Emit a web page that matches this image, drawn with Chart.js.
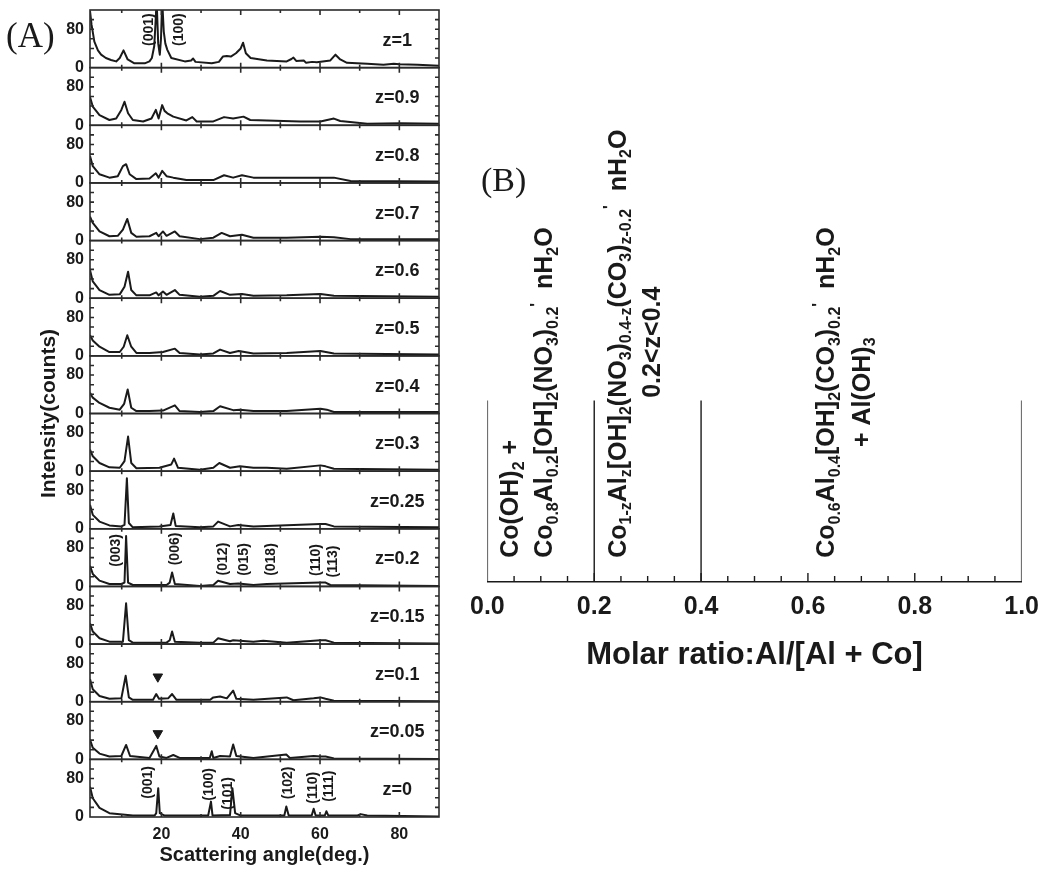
<!DOCTYPE html>
<html>
<head>
<meta charset="utf-8">
<title>XRD patterns and phase diagram</title>
<script src="https://cdn.jsdelivr.net/npm/chart.js@4.4.0/dist/chart.umd.min.js"></script>
<style>
  html, body { margin: 0; padding: 0; background: #fff; }
  #wrap { position: relative; width: 1049px; height: 869px; }
  canvas { position: absolute; top: 0; }
  #xrd { left: 0; }
  #phase { left: 460px; }
</style>
</head>
<body>
<div id="wrap">
  <canvas id="xrd" width="460" height="869"></canvas>
  <canvas id="phase" width="589" height="869"></canvas>
</div>
<script>
// ---- (A) XRD patterns, [angle, intensity] ----
const xrdZ100 = [[2.0,118],[2.4,89],[3.1,54],[4.0,36],[4.8,27],[6.0,20],[7.3,16],[8.6,13],[9.5,20],[10.45,36],[11.5,17],[13.2,9],[15.8,9],[17.0,13],[17.6,20],[18.2,45],[18.5,90],[18.8,140],[19.2,50],[19.6,27],[19.9,60],[20.2,140],[20.6,75],[21.0,50],[21.5,37],[22.5,20],[25.9,13],[27.5,15],[28.0,19],[28.6,12],[32.7,9],[34.5,12],[35.5,23],[36.5,24],[37.5,23],[38.8,30],[40.0,40],[40.6,52],[41.3,30],[42.5,20],[46.6,15],[51.6,13],[52.8,18],[53.3,21],[54.0,14],[55.9,15],[56.5,10],[58.0,12],[59.2,11],[62.6,15],[63.9,27],[65.1,17],[66.8,10],[71.9,8],[76.0,6],[78.6,8],[80.0,7],[84.6,6],[90.0,4]];
const xrdZ090 = [[2.0,59],[2.7,39],[4.4,21],[6.9,11],[8.6,14],[9.9,32],[10.7,49],[11.6,25],[12.8,11],[15.4,8],[17.5,14],[18.6,32],[19.3,14],[20.2,42],[20.8,30],[21.5,25],[23.0,18],[26.3,10],[27.8,17],[28.9,8],[33.1,8],[35.8,17],[38.1,14],[40.7,18],[42.4,11],[46.6,10],[55.0,8],[60.1,8],[63.5,14],[65.1,9],[71.9,3],[80.3,4],[90.0,3]];
const xrdZ080 = [[2.0,56],[2.7,35],[4.4,18],[6.9,11],[9.0,14],[10.3,35],[11.1,39],[12.0,18],[13.7,8],[17.0,9],[18.6,20],[19.3,11],[20.2,25],[21.3,14],[23.0,11],[26.3,6],[33.1,6],[35.8,16],[38.1,11],[40.3,16],[43.2,11],[51.6,11],[60.1,11],[63.5,11],[67.7,4],[90.0,3]];
const xrdZ070 = [[2.0,50],[2.7,37],[4.4,19],[6.9,9],[9.0,10],[10.3,23],[11.4,45],[12.4,16],[13.7,8],[17.0,9],[18.7,16],[19.3,9],[20.4,19],[21.3,10],[23.4,19],[24.6,9],[29.7,3],[33.1,6],[35.2,16],[37.3,9],[40.3,12],[43.2,6],[51.6,6],[60.1,8],[63.5,7],[67.7,3],[90.0,3]];
const xrdZ060 = [[2.0,59],[2.7,35],[4.4,17],[6.9,7],[9.5,8],[10.7,24],[11.6,55],[12.4,17],[13.7,6],[17.0,6],[18.7,12],[19.3,6],[20.4,14],[21.3,7],[23.4,17],[24.6,7],[29.7,3],[33.1,5],[34.8,15],[37.3,7],[40.3,9],[43.2,5],[51.6,6],[60.1,9],[63.5,5],[90.0,3]];
const xrdZ050 = [[2.0,43],[2.7,32],[4.4,19],[6.9,8],[9.5,8],[10.5,19],[11.4,43],[12.4,19],[13.7,6],[17.0,6],[20.4,8],[23.4,15],[24.6,6],[29.7,3],[33.1,5],[34.8,13],[37.3,6],[39.5,10],[43.2,5],[51.6,6],[60.1,10],[63.5,5],[90.0,3]];
const xrdZ040 = [[2.0,43],[2.7,33],[4.4,22],[6.9,12],[9.5,8],[10.6,20],[11.5,50],[12.4,12],[13.7,5],[17.0,5],[20.4,6],[23.4,17],[24.6,5],[29.7,3],[33.1,5],[34.8,15],[38.1,7],[39.8,8],[43.2,5],[51.6,5],[60.1,10],[61.7,8],[63.5,3],[90.0,3]];
const xrdZ030 = [[2.0,45],[2.7,31],[4.4,17],[6.9,8],[9.5,7],[10.7,21],[11.6,72],[12.4,17],[13.7,6],[19.5,7],[22.5,14],[23.2,26],[24.2,7],[29.7,3],[33.1,7],[34.6,17],[37.3,7],[39.8,10],[43.2,7],[46.6,7],[51.6,5],[60.1,12],[61.4,10],[63.5,5],[90.0,3]];
const xrdZ025 = [[2.0,50],[2.7,29],[4.4,15],[6.9,7],[9.9,5],[10.7,8],[11.3,105],[11.8,12],[12.8,3],[19.5,5],[22.3,8],[23.0,32],[23.6,6],[29.7,3],[33.1,5],[34.3,15],[37.3,5],[39.4,8],[43.2,5],[60.1,10],[61.4,10],[63.5,5],[90.0,3]];
const xrdZ020 = [[2.0,43],[2.7,26],[4.4,12],[6.9,5],[9.9,5],[10.7,8],[11.1,105],[11.6,8],[12.8,3],[21.3,3],[22.1,8],[22.7,29],[23.4,5],[29.7,1],[33.1,3],[34.3,12],[37.3,5],[39.4,6],[43.2,3],[46.6,5],[60.1,8],[61.4,8],[62.6,3],[90.0,1]];
const xrdZ015 = [[2.0,43],[2.7,26],[4.4,12],[6.9,5],[10.3,5],[11.1,85],[11.8,8],[12.8,3],[21.3,3],[22.1,8],[22.7,26],[23.4,5],[29.7,3],[33.1,3],[34.3,12],[37.3,6],[38.1,8],[43.2,5],[45.7,7],[51.6,3],[60.1,8],[61.4,8],[63.5,3],[90.0,1]];
const xrdZ010 = [[2.0,47],[2.7,26],[4.4,12],[6.9,6],[9.9,7],[11.0,54],[11.8,9],[12.8,4],[17.9,4],[18.7,16],[19.4,6],[21.7,7],[22.7,16],[23.8,4],[32.3,4],[33.1,9],[34.8,11],[36.5,7],[38.1,23],[38.9,6],[43.2,4],[51.6,9],[53.3,3],[58.4,7],[60.1,9],[61.4,6],[63.5,2],[90.0,1]];
const xrdZ005 = [[2.0,41],[2.7,24],[4.4,12],[6.9,6],[9.9,7],[11.1,30],[12.1,7],[17.0,3],[18.7,28],[19.5,6],[21.3,3],[23.0,9],[24.6,3],[32.2,3],[32.7,17],[33.1,3],[34.8,7],[37.3,6],[38.1,31],[38.9,7],[43.2,3],[51.5,10],[52.4,3],[58.4,7],[60.1,6],[61.4,6],[63.5,2],[90.0,1]];
const xrdZ000 = [[2.0,63],[2.7,39],[4.4,19],[6.9,8],[12.8,3],[18.3,3],[18.7,8],[19.2,60],[19.6,8],[20.8,3],[31.8,3],[32.5,32],[32.9,3],[37.3,4],[37.9,60],[38.6,8],[40.0,3],[51.0,3],[51.5,22],[52.1,3],[57.9,3],[58.4,17],[58.9,3],[61.2,3],[61.6,12],[62.1,3],[69.4,3],[70.2,6],[71.9,3],[90.0,1]];

const sampleLabels = ['z=1', 'z=0.9', 'z=0.8', 'z=0.7', 'z=0.6', 'z=0.5', 'z=0.4', 'z=0.3', 'z=0.25', 'z=0.2', 'z=0.15', 'z=0.1', 'z=0.05', 'z=0'];
const patterns = [xrdZ100, xrdZ090, xrdZ080, xrdZ070, xrdZ060, xrdZ050, xrdZ040, xrdZ030, xrdZ025, xrdZ020, xrdZ015, xrdZ010, xrdZ005, xrdZ000];
const angleTicks = [20, 40, 60, 80];
const intensityTicks = [0, 80];

// Miller index labels: sample, angle, intensity level
const peakLabels = [
  { sample: 'z=1', angle: 16.5, level: 79, text: '(001)' },
  { sample: 'z=1', angle: 24.1, level: 79, text: '(100)' },
  { sample: 'z=0.2', angle: 8.2, level: 75, text: '(003)' },
  { sample: 'z=0.2', angle: 23.1, level: 78, text: '(006)' },
  { sample: 'z=0.2', angle: 35.3, level: 57, text: '(012)' },
  { sample: 'z=0.2', angle: 40.6, level: 56, text: '(015)' },
  { sample: 'z=0.2', angle: 47.4, level: 56, text: '(018)' },
  { sample: 'z=0.2', angle: 58.8, level: 55, text: '(110)' },
  { sample: 'z=0.2', angle: 63.1, level: 52, text: '(113)' },
  { sample: 'z=0', angle: 16.3, level: 72, text: '(001)' },
  { sample: 'z=0', angle: 31.7, level: 68, text: '(100)' },
  { sample: 'z=0', angle: 36.5, level: 49, text: '(101)' },
  { sample: 'z=0', angle: 51.7, level: 71, text: '(102)' },
  { sample: 'z=0', angle: 58.0, level: 61, text: '(110)' },
  { sample: 'z=0', angle: 62.1, level: 64, text: '(111)' }
];
const markers = [
  { sample: 'z=0.1', angle: 19.1, level: 52 },
  { sample: 'z=0.05', angle: 19.1, level: 54 }
];

// ---- (B) phase diagram ----
const ratioTicks = [0, 0.2, 0.4, 0.6, 0.8, 1.0];
const phaseBoundaries = [0, 0.2, 0.4, 1.0];
const boundaryHeight = 33;
const phaseLabels = [
  { ratio: 0.041, level: 4.4, align: 'start', text: 'Co(OH)_{2} +' },
  { ratio: 0.105, level: 4.4, align: 'start', text: "Co_{0.8}Al_{0.2}[OH]_{2}(NO_{3})_{0.2}^{'}  nH_{2}O" },
  { ratio: 0.242, level: 4.4, align: 'start', text: "Co_{1-z}Al_{z}[OH]_{2}(NO_{3})_{0.4-z}(CO_{3})_{z-0.2}^{'}  nH_{2}O" },
  { ratio: 0.307, level: 43.6, align: 'center', text: '0.2<z<0.4' },
  { ratio: 0.632, level: 4.4, align: 'start', text: "Co_{0.6}Al_{0.4}[OH]_{2}(CO_{3})_{0.2}^{'}  nH_{2}O" },
  { ratio: 0.699, level: 34.5, align: 'center', text: '+ Al(OH)_{3}' }
];

const ink = '#1a1a1a';
const sans = "'Liberation Sans', Arial, Helvetica, sans-serif";
const serif = "'Liberation Serif', 'Times New Roman', serif";
Chart.defaults.font.family = sans;
Chart.defaults.color = ink;

// draws text rotated -90deg; _{..} subscript, ^{..} superscript
function drawRotated(ctx, str, x, y, size, align) {
  const parts = [];
  const re = /([_^])\{([^}]*)\}|([^_^]+)/g;
  let m;
  while ((m = re.exec(str))) {
    if (m[3]) parts.push({ t: m[3], k: 'n' });
    else parts.push({ t: m[2], k: m[1] === '_' ? 'sub' : 'sup' });
  }
  const small = Math.round(size * 0.64);
  const fontFor = k => `bold ${k === 'n' ? size : small}px ${sans}`;
  let total = 0;
  parts.forEach(p => { ctx.font = fontFor(p.k); p.w = ctx.measureText(p.t).width; total += p.w; });
  ctx.save();
  ctx.translate(x, y);
  ctx.rotate(-Math.PI / 2);
  ctx.textAlign = 'left';
  ctx.textBaseline = 'alphabetic';
  ctx.fillStyle = ink;
  let cx = align === 'center' ? -total / 2 : 0;
  const base = size * 0.36;
  parts.forEach(p => {
    ctx.font = fontFor(p.k);
    const dy = p.k === 'sub' ? base + size * 0.22 : p.k === 'sup' ? base - size * 0.42 : base;
    ctx.fillText(p.t, cx, dy);
    cx += p.w;
  });
  ctx.restore();
}

// ---------- chart A ----------
// stacked axes are laid out bottom-up, so the last sample gets the first axis
const axisId = s => 'y' + sampleLabels.indexOf(s);

const yScales = {};
sampleLabels.slice().reverse().forEach(s => {
  yScales[axisId(s)] = {
    type: 'linear',
    position: 'left',
    stack: 'xrd',
    stackWeight: 1,
    min: 0,
    max: 120,
    afterBuildTicks: axis => { axis.ticks = intensityTicks.map(v => ({ value: v })); },
    afterFit: axis => { axis.width = 90; axis.paddingTop = 0; axis.paddingBottom = 0; },
    ticks: { font: { size: 16, weight: 'bold' }, color: ink, padding: 6, autoSkip: false },
    grid: { display: false, drawTicks: false },
    border: { display: false }
  };
});

const xrdDatasets = patterns.map((pts, i) => ({
  label: sampleLabels[i],
  data: pts.map(p => ({ x: p[0], y: p[1] })),
  yAxisID: axisId(sampleLabels[i]),
  borderColor: ink,
  borderWidth: 2,
  pointRadius: 0,
  tension: 0,
  borderJoinStyle: 'round'
}));

const markerDatasets = markers.map(mk => ({
  type: 'scatter',
  data: [{ x: mk.angle, y: mk.level }],
  yAxisID: axisId(mk.sample),
  pointStyle: 'triangle',
  pointRotation: 180,
  pointRadius: 5.5,
  backgroundColor: ink,
  borderColor: ink,
  showLine: false
}));

const xrdDecor = {
  id: 'xrdDecor',
  afterDatasetsDraw(chart) {
    const { ctx, chartArea: ca, scales } = chart;
    const x = scales.x;
    ctx.save();
    ctx.strokeStyle = '#2b2b2b';
    ctx.lineWidth = 1.6;
    sampleLabels.forEach(s => {
      const y = scales[axisId(s)];
      ctx.strokeRect(ca.left, y.top, ca.right - ca.left, y.bottom - y.top);
      ctx.beginPath();
      for (let a = 10; a < 90; a += 10) {
        const px = x.getPixelForValue(a);
        const len = a % 20 === 0 ? 5 : 3;
        ctx.moveTo(px, y.top); ctx.lineTo(px, y.top + len);
        ctx.moveTo(px, y.bottom); ctx.lineTo(px, y.bottom - len);
      }
      for (let v = 20; v < 120; v += 20) {
        const py = y.getPixelForValue(v);
        ctx.moveTo(ca.left, py); ctx.lineTo(ca.left + 4, py);
        ctx.moveTo(ca.right, py); ctx.lineTo(ca.right - 4, py);
      }
      ctx.stroke();
      ctx.fillStyle = ink;
      ctx.font = `bold 18px ${sans}`;
      ctx.textAlign = 'center';
      ctx.textBaseline = 'middle';
      ctx.fillText(s, x.getPixelForValue(79.5), y.getPixelForValue(56));
    });
    peakLabels.forEach(l => {
      const y = scales[axisId(l.sample)];
      drawRotated(ctx, l.text, x.getPixelForValue(l.angle), y.getPixelForValue(l.level), 14, 'center');
    });
    drawRotated(ctx, 'Intensity(counts)', 47, (ca.top + ca.bottom) / 2, 21, 'center');
    ctx.fillStyle = ink;
    ctx.font = `35px ${serif}`;
    ctx.textAlign = 'left';
    ctx.textBaseline = 'middle';
    ctx.fillText('(A)', 6, 38);
    ctx.restore();
  }
};

new Chart(document.getElementById('xrd'), {
  type: 'line',
  data: { datasets: [...xrdDatasets, ...markerDatasets] },
  options: {
    responsive: false,
    animation: false,
    devicePixelRatio: 1,
    layout: { padding: { top: 10, right: 21, bottom: 0, left: 0 } },
    plugins: { legend: { display: false }, tooltip: { enabled: false } },
    scales: {
      x: {
        type: 'linear',
        position: 'bottom',
        min: 2,
        max: 90,
        afterBuildTicks: axis => { axis.ticks = angleTicks.map(v => ({ value: v })); },
        afterFit: axis => { axis.height = 52; },
        ticks: { font: { size: 16, weight: 'bold' }, color: ink, padding: 8, autoSkip: false, maxRotation: 0 },
        grid: { display: false, drawTicks: false },
        border: { display: false },
        title: { display: true, text: 'Scattering angle(deg.)', font: { size: 20, weight: 'bold' }, color: ink, padding: { top: 0, bottom: 2 } }
      },
      ...yScales
    }
  },
  plugins: [xrdDecor]
});

// ---------- chart B ----------
const phaseDecor = {
  id: 'phaseDecor',
  afterDatasetsDraw(chart) {
    const { ctx, chartArea: ca, scales } = chart;
    const x = scales.x, y = scales.y;
    ctx.save();
    ctx.strokeStyle = ink;
    ctx.lineWidth = 1.4;
    ctx.beginPath();
    for (let i = 1; i < 20; i++) {
      const px = x.getPixelForValue(i * 0.05);
      const len = i % 4 === 0 ? 9 : 6;
      ctx.moveTo(px, ca.bottom); ctx.lineTo(px, ca.bottom - len);
    }
    ctx.stroke();
    phaseLabels.forEach(l => {
      drawRotated(ctx, l.text, x.getPixelForValue(l.ratio), y.getPixelForValue(l.level), 25, l.align);
    });
    ctx.fillStyle = ink;
    ctx.font = `34px ${serif}`;
    ctx.textAlign = 'left';
    ctx.textBaseline = 'middle';
    ctx.fillText('(B)', 21, 182);
    ctx.restore();
  }
};

new Chart(document.getElementById('phase'), {
  type: 'line',
  data: {
    datasets: phaseBoundaries.map(b => ({
      data: [{ x: b, y: 0 }, { x: b, y: boundaryHeight }],
      borderColor: ink,
      borderWidth: 1.4,
      pointRadius: 0
    }))
  },
  options: {
    responsive: false,
    animation: false,
    devicePixelRatio: 1,
    layout: { padding: { top: 32, right: 24, bottom: 189, left: 24 } },
    plugins: { legend: { display: false }, tooltip: { enabled: false } },
    scales: {
      x: {
        type: 'linear',
        min: 0,
        max: 1,
        afterBuildTicks: axis => { axis.ticks = ratioTicks.map(v => ({ value: v })); },
        afterFit: axis => { axis.height = 98; },
        ticks: { font: { size: 25, weight: 'bold' }, color: ink, padding: 10, autoSkip: false, maxRotation: 0, callback: v => v.toFixed(1) },
        grid: { display: false, drawTicks: false },
        border: { display: true, color: ink, width: 1.4 },
        title: { display: true, text: 'Molar ratio:Al/[Al + Co]', font: { size: 31, weight: 'bold' }, color: ink, padding: { top: 0, bottom: 6 } }
      },
      y: { type: 'linear', display: false, min: 0, max: 100 }
    }
  },
  plugins: [phaseDecor]
});
</script>
</body>
</html>
